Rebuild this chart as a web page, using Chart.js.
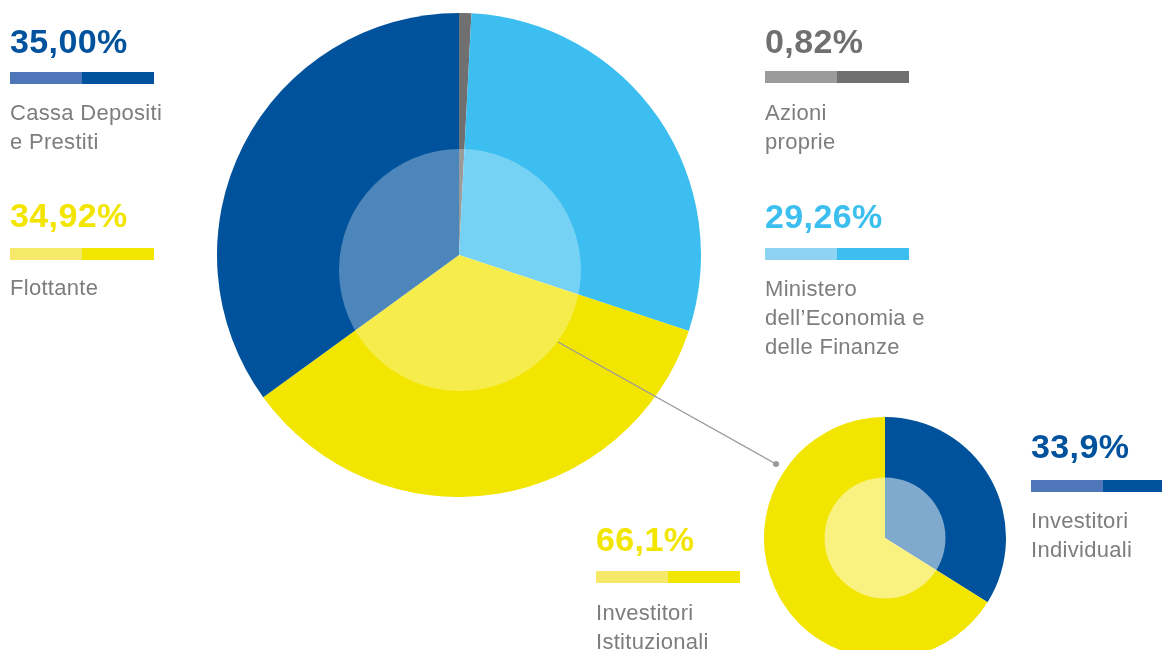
<!DOCTYPE html>
<html>
<head>
<meta charset="utf-8">
<script src="https://cdn.jsdelivr.net/npm/chart.js@4"></script>
<style>
  html, body { margin:0; padding:0; background:#fff; width:1162px; height:650px; overflow:hidden; }
  body { position:relative; font-family:"Liberation Sans", Arial, Helvetica, sans-serif; }
  canvas { position:absolute; display:block; }
  .grp { position:absolute; }
  .num { font-size:34px; line-height:34px; font-weight:bold; letter-spacing:0.4px; white-space:nowrap; }
  .bar { position:absolute; height:12px; width:144px; display:flex; }
  .bar span { flex:1; height:12px; }
  .lbl { position:absolute; font-size:22px; line-height:29px; letter-spacing:0.3px; color:#7d7d7d; white-space:nowrap; }
  svg { position:absolute; left:0; top:0; pointer-events:none; }
</style>
</head>
<body>
<canvas id="main" width="484" height="484" style="left:217px;top:13px;width:484px;height:484px"></canvas>
<canvas id="sub" width="242" height="242" style="left:764px;top:417px;width:242px;height:242px"></canvas>
<svg width="1162" height="650">
  <line x1="558" y1="342" x2="776" y2="464" stroke="#9a9a9a" stroke-width="1.3"/>
  <circle cx="776" cy="464" r="3" fill="#9a9a9a"/>
</svg>
<div id="labels"></div>
<script>
// ---- data ----
const mainLabels = ['Azioni proprie', 'Ministero dell’Economia e delle Finanze', 'Flottante', 'Cassa Depositi e Prestiti'];
const mainValues = [0.82, 29.26, 34.92, 35.00];
const mainDecimals = 2;
const subLabels = ['Investitori Individuali', 'Investitori Istituzionali'];
const subValues = [33.9, 66.1];
const subDecimals = 1;

// ---- styles ----
const mainColors = ['#707070', '#3CBFF0', '#F2E500', '#00529C'];
const mainLight  = ['#9B9B9B', '#8FD3F3', '#F6E96A', '#4E76B8'];
const subColors  = ['#00529C', '#F2E500'];
const subLight   = ['#4E76B8', '#F6E96A'];

function fmt(v, d) { return v.toFixed(d).replace('.', ',') + '%'; }

// label blocks: [x, baselineNumber, barTop, firstLabelBaseline, lines]
const mainBlocks = [
  {x:765, nb:53, bt:71, lb:120, lines:['Azioni', 'proprie']},
  {x:765, nb:228, bt:248, lb:296, lines:['Ministero', 'dell’Economia e', 'delle Finanze']},
  {x:10, nb:227, bt:248, lb:295, lines:['Flottante']},
  {x:10, nb:53, bt:72, lb:120, lines:['Cassa Depositi', 'e Prestiti']}
];
const subBlocks = [
  {x:1031, nb:458, bt:480, lb:528, lines:['Investitori', 'Individuali']},
  {x:596, nb:551, bt:571, lb:620, lines:['Investitori', 'Istituzionali']}
];

const host = document.getElementById('labels');
function addBlock(b, value, dec, color, light) {
  const n = document.createElement('div');
  n.className = 'grp num';
  n.style.left = b.x + 'px';
  n.style.top = (b.nb - 29) + 'px';
  n.style.color = color;
  n.textContent = fmt(value, dec);
  host.appendChild(n);
  const bar = document.createElement('div');
  bar.className = 'bar';
  bar.style.left = b.x + 'px';
  bar.style.top = b.bt + 'px';
  bar.innerHTML = '<span style="background:' + light + '"></span><span style="background:' + color + '"></span>';
  host.appendChild(bar);
  b.lines.forEach((t, i) => {
    const l = document.createElement('div');
    l.className = 'lbl';
    l.style.left = b.x + 'px';
    l.style.top = (b.lb - 22 + i * 29) + 'px';
    l.textContent = t;
    host.appendChild(l);
  });
}
mainValues.forEach((v, i) => addBlock(mainBlocks[i], v, mainDecimals, mainColors[i], mainLight[i]));
subValues.forEach((v, i) => addBlock(subBlocks[i], v, subDecimals, subColors[i], subLight[i]));

// overlay highlight circle plugin
const overlay = {
  id: 'overlay',
  afterDatasetsDraw(chart, args, opts) {
    const arc = chart.getDatasetMeta(0).data[0];
    if (!arc) return;
    const r = arc.outerRadius;
    const ctx = chart.ctx;
    ctx.save();
    ctx.beginPath();
    ctx.arc(arc.x + r * opts.dx, arc.y + r * opts.dy, r * opts.scale, 0, Math.PI * 2);
    ctx.fillStyle = 'rgba(255,255,255,' + opts.alpha + ')';
    ctx.fill();
    ctx.restore();
  }
};

const common = {
  responsive: false,
  animation: false,
  layout: { padding: 0 },
  plugins: { legend: { display: false }, tooltip: { enabled: false } },
  events: []
};

new Chart(document.getElementById('main'), {
  type: 'pie',
  data: { labels: mainLabels, datasets: [{ data: mainValues, backgroundColor: mainColors, borderWidth: 0, hoverOffset: 0 }] },
  options: Object.assign({}, common, {
    plugins: Object.assign({}, common.plugins, { overlay: { dx: 0.004, dy: 0.062, scale: 0.5, alpha: 0.3 } })
  }),
  plugins: [overlay]
});

new Chart(document.getElementById('sub'), {
  type: 'pie',
  data: { labels: subLabels, datasets: [{ data: subValues, backgroundColor: subColors, borderWidth: 0, hoverOffset: 0 }] },
  options: Object.assign({}, common, {
    plugins: Object.assign({}, common.plugins, { overlay: { dx: 0, dy: 0, scale: 0.5, alpha: 0.5 } })
  }),
  plugins: [overlay]
});
</script>
</body>
</html>
